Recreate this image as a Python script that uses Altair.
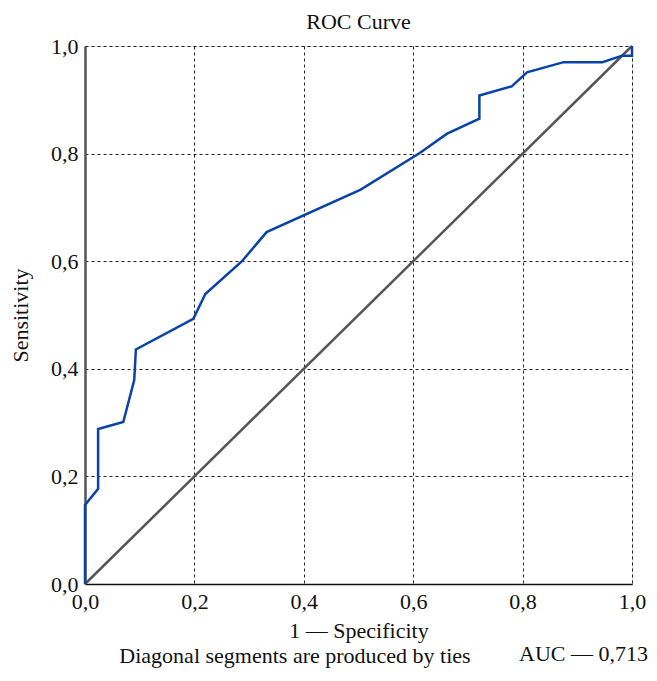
import altair as alt
import pandas as pd

# ROC curve points
fpr = [0.0, 0.0, 0.024, 0.024, 0.070, 0.090, 0.093, 0.198, 0.220, 0.287, 0.332,
       0.504, 0.612, 0.662, 0.721, 0.721, 0.780, 0.808, 0.875, 0.946, 0.982, 1.0, 1.0]
tpr = [0.0, 0.147, 0.177, 0.288, 0.301, 0.379, 0.436, 0.493, 0.539, 0.600, 0.654,
       0.733, 0.801, 0.837, 0.865, 0.908, 0.925, 0.951, 0.970, 0.970, 0.982, 0.982, 1.0]
diag_x = [0.0, 1.0]
diag_y = [0.0, 1.0]
ticks = [0.0, 0.2, 0.4, 0.6, 0.8, 1.0]

FONT = "Liberation Serif"
FS = 22
W, H = 547, 538

roc = pd.DataFrame({"x": fpr, "y": tpr, "o": list(range(len(fpr)))})
diag = pd.DataFrame({"x": diag_x, "y": diag_y})

lbl = "replace(format(datum.value, '.1f'), '.', ',')"
xscale = alt.Scale(domain=[0, 1], nice=False)
yscale = alt.Scale(domain=[0, 1], nice=False)

common = dict(values=ticks, labelExpr=lbl, grid=True, gridDash=[3, 3], gridColor="#000",
              gridOpacity=0.85, gridWidth=1, ticks=False, labelFlush=False,
              labelFontSize=FS, titleFontSize=FS, labelFont=FONT, titleFont=FONT,
              labelColor="#111", titleColor="#111", titleFontWeight="normal")

xaxis = alt.Axis(title="1 — Specificity", labelPadding=7, titlePadding=8,
                 domainColor="#111", domainWidth=1.5, **common)
yaxis = alt.Axis(title="Sensitivity", labelPadding=7, titlePadding=18,
                 domainColor="#555", domainWidth=2.5, **common)

diag_line = alt.Chart(diag).mark_line(color="#555555", strokeWidth=2.5).encode(
    x=alt.X("x:Q", scale=xscale, axis=xaxis),
    y=alt.Y("y:Q", scale=yscale, axis=yaxis),
)
roc_line = alt.Chart(roc).mark_line(color="#0a43a8", strokeWidth=2.5).encode(
    x=alt.X("x:Q", scale=xscale),
    y=alt.Y("y:Q", scale=yscale),
    order="o:Q",
)

auc_text = alt.Chart(pd.DataFrame({"t": ["AUC — 0,713"]})).mark_text(
    font=FONT, fontSize=FS, align="right", baseline="alphabetic", color="#111"
).encode(x=alt.value(W + 16), y=alt.value(H + 77), text="t:N")

foot_text = alt.Chart(pd.DataFrame({"t": ["Diagonal segments are produced by ties"]})).mark_text(
    font=FONT, fontSize=FS, align="center", baseline="alphabetic", color="#111"
).encode(x=alt.value(210), y=alt.value(H + 79), text="t:N")

chart = alt.layer(diag_line, roc_line, auc_text, foot_text).properties(
    width=W, height=H,
    title=alt.TitleParams("ROC Curve", font=FONT, fontSize=FS, fontWeight="normal",
                          color="#111", offset=1, anchor="middle"),
    autosize=alt.AutoSizeParams(type="none"),
    padding={"left": 77, "top": 38, "right": 17, "bottom": 84},
).configure_view(stroke="#222", strokeWidth=1.5).configure(background="white")

chart.save("out.html", embed_options={"renderer": "svg", "actions": False})
